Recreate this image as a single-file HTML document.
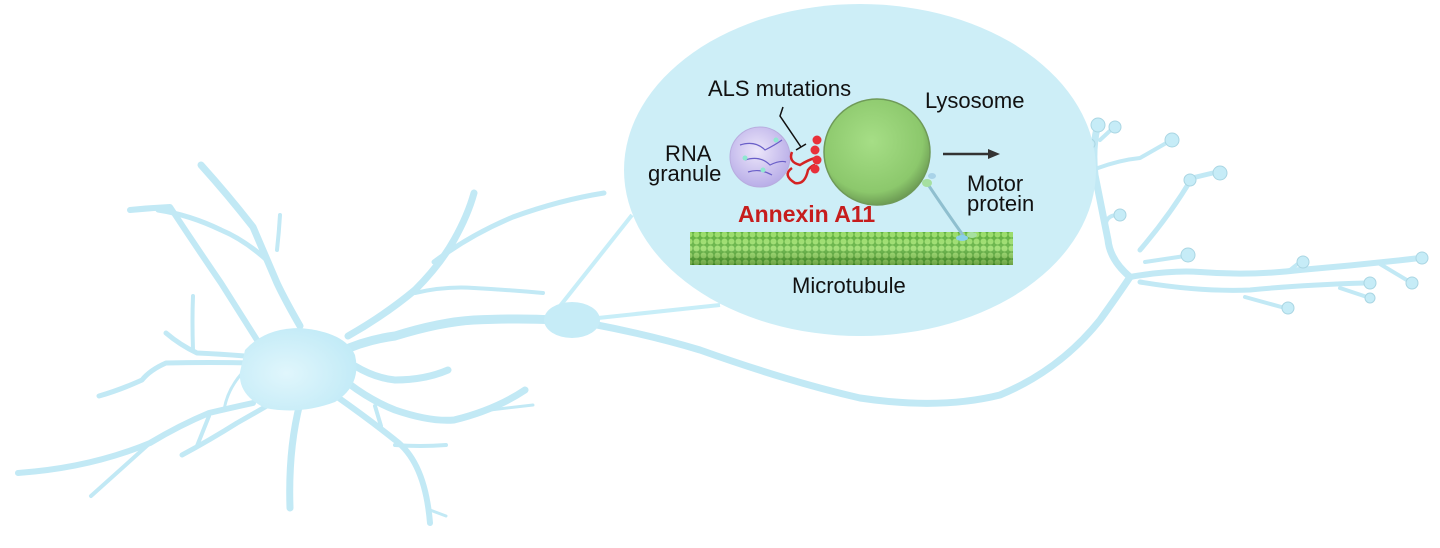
<!DOCTYPE html>
<html><head><meta charset="utf-8"><style>
html,body{margin:0;padding:0;background:#fff;width:1440px;height:548px;overflow:hidden}
svg{display:block}
text{font-family:"Liberation Sans",Arial,sans-serif}
</style></head><body>
<svg width="1440" height="548" viewBox="0 0 1440 548" xmlns="http://www.w3.org/2000/svg">
<defs>
<radialGradient id="soma" cx="0.4" cy="0.55" r="0.6">
<stop offset="0" stop-color="#e0f6fc"/><stop offset="1" stop-color="#c3ebf7"/></radialGradient>
<radialGradient id="lys" cx="0.45" cy="0.4" r="0.6">
<stop offset="0" stop-color="#a6de86"/><stop offset="0.8" stop-color="#8cc86c"/><stop offset="1" stop-color="#6e9e55"/></radialGradient>
<radialGradient id="rna" cx="0.45" cy="0.4" r="0.6">
<stop offset="0" stop-color="#ece6fa"/><stop offset="1" stop-color="#b9aee8"/></radialGradient>
<pattern id="mt" width="7" height="7" patternUnits="userSpaceOnUse">
<rect width="7" height="7" fill="#4fa82a"/><circle cx="3.5" cy="3.5" r="3" fill="#8fd85a"/></pattern>
<linearGradient id="mtshade" x1="0" y1="0" x2="0" y2="1">
<stop offset="0" stop-color="#fff" stop-opacity="0.1"/><stop offset="0.5" stop-color="#fff" stop-opacity="0.2"/><stop offset="1" stop-color="#000" stop-opacity="0.25"/></linearGradient>
</defs>

<!-- connector lines -->
<g stroke="#c8eef8" stroke-width="4" fill="none">
<line x1="560" y1="306" x2="632" y2="215"/>
<line x1="598" y1="318" x2="720" y2="305"/>
</g>

<!-- neuron dendrites -->
<g fill="none" stroke="#c2e9f5" stroke-linecap="round" stroke-linejoin="round">
<path stroke-width="6" d="M253 403 Q230 408 209 413 Q180 425 150 443 Q90 468 18 473"/>
<path stroke-width="4" d="M150 443 Q120 470 91 496"/>
<path stroke-width="4" d="M209 416 L197 446"/>
<path stroke-width="5" d="M284 396 Q260 410 237 423 Q210 440 182 455"/>
<path stroke-width="7" d="M300 403 Q288 450 290 508"/>
<path stroke-width="6" d="M336 396 Q370 420 395 440 Q425 462 430 523"/>
<path stroke-width="3" d="M430 510 L446 516"/>
<path stroke-width="4" d="M395 445 Q420 447 446 445"/>
<path stroke-width="4" d="M375 406 L381 426"/>
<path stroke-width="7" d="M348 383 Q370 400 395 410 Q430 422 454 420 Q495 410 525 390"/>
<path stroke-width="3" d="M490 410 L533 405"/>
<path stroke-width="7" d="M355 366 Q375 378 395 380 Q425 380 448 370"/>
<path stroke-width="9" d="M340 352 Q365 340 395 336 Q440 322 474 320 Q520 318 555 320"/>
<path stroke-width="7" d="M348 336 Q385 315 415 290 Q440 265 454 240 Q468 215 474 193"/>
<path stroke-width="5" d="M434 262 Q470 235 513 217 Q560 200 604 193"/>
<path stroke-width="4" d="M415 293 Q445 286 474 288 Q510 290 543 293"/>
<path stroke-width="7" d="M300 326 Q285 300 277 283 Q265 255 253 227 Q228 195 201 165"/>
<path stroke-width="4" d="M277 250 Q279 232 280 215"/>
<path stroke-width="6" d="M257 340 Q238 310 221 283 Q195 245 170 207 Q150 208 130 210"/>
<path stroke-width="5" d="M269 262 Q245 240 221 230 Q190 215 158 210"/>
<path stroke-width="5" d="M245 356 Q220 354 197 353 Q180 345 166 333"/>
<path stroke-width="4" d="M193 350 Q192 320 193 296"/>
<path stroke-width="5" d="M253 363 Q210 362 166 363 Q150 370 142 380 Q120 390 99 396"/>
<path stroke-width="3" d="M250 365 Q228 385 224 410"/>
<path stroke-width="7" d="M592 324 Q650 335 700 350 Q790 382 860 398 Q940 410 1000 395 Q1060 370 1100 320 Q1118 295 1130 277"/>
<path stroke-width="7" d="M1130 277 Q1110 260 1108 240 Q1100 200 1095 175 Q1092 150 1097 128"/>
<path stroke-width="4" d="M1100 140 L1113 128"/>
<path stroke-width="4" d="M1098 168 Q1120 160 1140 158 L1168 142"/>
<path stroke-width="5" d="M1140 250 Q1170 215 1192 178 L1217 172"/>
<path stroke-width="4" d="M1108 240 Q1100 215 1118 215"/>
<path stroke-width="6" d="M1130 277 Q1170 270 1200 272 Q1250 276 1300 270 Q1360 265 1420 258"/>
<path stroke-width="4" d="M1380 264 L1410 282"/>
<path stroke-width="5" d="M1140 282 Q1200 292 1250 290 Q1300 285 1365 283"/>
<path stroke-width="4" d="M1340 288 L1370 298"/>
<path stroke-width="4" d="M1245 297 L1285 308"/>
<path stroke-width="4" d="M1145 262 L1185 256"/>
<path stroke-width="4" d="M1290 270 L1300 262"/>
</g>
<g fill="#c6ecf7" stroke="#aad6e3" stroke-width="1">
<circle cx="1098" cy="125" r="7"/><circle cx="1115" cy="127" r="6"/><circle cx="1090" cy="144" r="5"/>
<circle cx="1172" cy="140" r="7"/><circle cx="1220" cy="173" r="7"/><circle cx="1190" cy="180" r="6"/>
<circle cx="1120" cy="215" r="6"/><circle cx="1188" cy="255" r="7"/><circle cx="1303" cy="262" r="6"/>
<circle cx="1422" cy="258" r="6"/><circle cx="1412" cy="283" r="6"/><circle cx="1370" cy="283" r="6"/>
<circle cx="1370" cy="298" r="5"/><circle cx="1288" cy="308" r="6"/>
</g>
<!-- soma -->
<path d="M245 350 Q265 328 300 328 Q345 332 355 355 Q362 385 335 402 Q300 415 265 408 Q238 395 240 372 Z" fill="url(#soma)"/>
<ellipse cx="572" cy="320" rx="28" ry="18" fill="#c6ecf7"/>

<!-- big ellipse -->
<ellipse cx="860" cy="170" rx="236" ry="166" fill="#cdeef7"/>

<!-- microtubule -->
<rect x="690" y="232" width="323" height="33" fill="url(#mt)"/>
<rect x="690" y="232" width="323" height="33" fill="url(#mtshade)"/>

<!-- motor protein stalk -->
<path d="M927 183 Q945 210 965 238" stroke="#8fbfcf" stroke-width="3" fill="none"/>
<ellipse cx="927" cy="183" rx="5" ry="4" fill="#a6e0a0"/>
<ellipse cx="932" cy="176" rx="4" ry="3" fill="#a9d3e8"/>
<ellipse cx="962" cy="238" rx="6" ry="3" fill="#8ad0e8"/>
<ellipse cx="972" cy="235" rx="5" ry="3" fill="#a6e0a0"/>

<circle cx="877" cy="152" r="53" fill="url(#lys)" stroke="#6f9a58" stroke-width="1.5"/>

<circle cx="760" cy="157" r="30" fill="url(#rna)" stroke="#b8acde" stroke-width="1"/>
<g stroke="#6a5fc8" stroke-width="1.2" fill="none">
<path d="M740 145 Q755 140 765 150 Q775 145 782 140"/>
<path d="M745 160 Q760 155 770 165 Q780 160 786 162"/>
<path d="M748 172 Q760 168 772 175"/>
</g>
<g fill="#8fe8d0"><circle cx="776" cy="140" r="2.5"/><circle cx="745" cy="158" r="2.5"/><circle cx="763" cy="170" r="2.5"/></g>

<path d="M792 152 Q788 162 800 165 Q808 160 815 158 M792 168 Q782 175 795 183 Q805 185 808 170 Q812 165 815 165" stroke="#d42323" stroke-width="2.5" fill="none"/>
<g fill="#e8303a"><circle cx="817" cy="140" r="4.5"/><circle cx="815" cy="150" r="4.5"/><circle cx="817" cy="160" r="4.5"/><circle cx="815" cy="169" r="4.5"/></g>

<path d="M783 107 L780 116 L801 147" stroke="#111" stroke-width="1.5" fill="none"/>
<line x1="796" y1="150" x2="806" y2="144" stroke="#111" stroke-width="1.5"/>

<line x1="943" y1="154" x2="990" y2="154" stroke="#333" stroke-width="2.5"/>
<polygon points="988,149 1000,154 988,159" fill="#333"/>

<g font-size="22" fill="#111">
<text x="708" y="96">ALS mutations</text>
<text x="925" y="108">Lysosome</text>
<text x="665" y="161">RNA</text>
<text x="648" y="181">granule</text>
<text x="967" y="191">Motor</text>
<text x="967" y="211">protein</text>
<text x="792" y="293">Microtubule</text>
</g>
<text x="738" y="222" font-size="23" font-weight="bold" fill="#c61d1d">Annexin A11</text>
</svg>
</body></html>
